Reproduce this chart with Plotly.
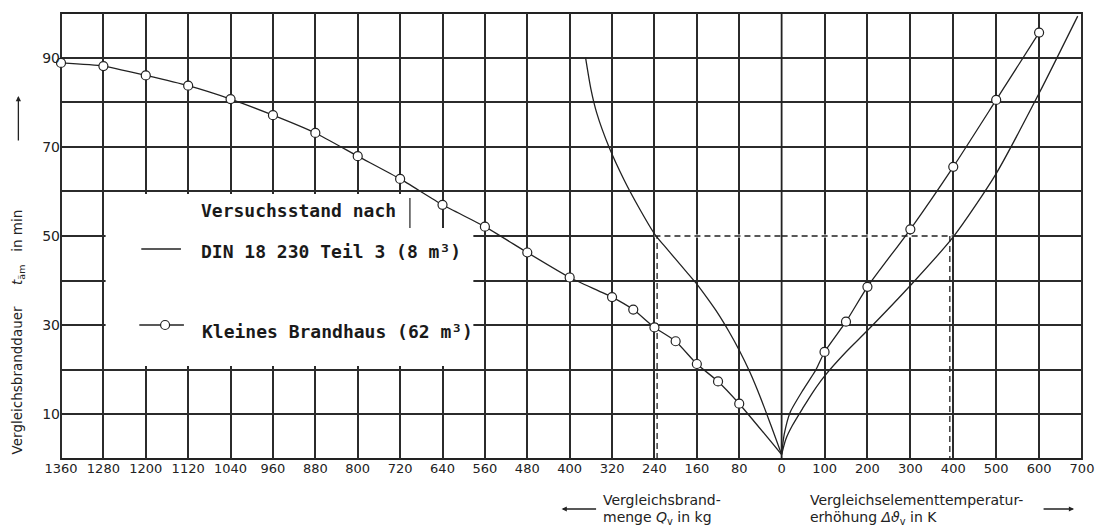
import plotly.graph_objects as go

# ---------------- data ----------------
# left half: Vergleichsbrandmenge Q_v in kg (axis runs 1360 -> 0)
q_ticks = [1360, 1280, 1200, 1120, 1040, 960, 880, 800, 720, 640, 560, 480, 400, 320, 240, 160, 80, 0]
q_tick_text = ["1360", "1280", "1200", "1120", "1040", "960", "880", "800", "720", "640", "560",
               "480", "400", "320", "240", "160", "80", "0"]
# right half: Vergleichselementtemperaturerhöhung in K
k_ticks = [100, 200, 300, 400, 500, 600, 700]
k_tick_text = ["100", "200", "300", "400", "500", "600", "700"]
# y: Vergleichsbranddauer in min
y_ticks = [10, 20, 30, 40, 50, 60, 70, 80, 90]
y_tick_text = ["10", "", "30", "", "50", "", "70", "", "90"]

# Kleines Brandhaus (62 m3) - measured points (circles)
bh_q = [1360, 1280, 1200, 1120, 1040, 960, 880, 800, 720, 640, 560, 480, 400, 320, 280, 240, 200, 160, 120, 80]
bh_q_t = [88.8, 88.1, 86.0, 83.7, 80.7, 77.1, 73.1, 67.9, 62.8, 57.0, 52.1, 46.3, 40.7, 36.3, 33.5, 29.5, 26.4, 21.3, 17.4, 12.4]
bh_k = [100, 150, 200, 300, 400, 500, 600]
bh_k_t = [24.0, 30.8, 38.6, 51.5, 65.5, 80.5, 95.6]
# curve segments joining the measurements to the common origin
bh_q_tail = [0]
bh_q_tail_t = [1]
bh_k_head = [0, 6, 20, 50, 80]
bh_k_head_t = [1, 5.5, 10.5, 15.5, 20.0]

# DIN 18 230 Teil 3 (8 m3) - curves without markers
din_q = [370, 360, 349, 326, 297, 270, 240, 220, 200, 180, 160, 140, 120, 100, 80, 60, 40, 20, 0]
din_q_t = [90, 83.0, 77.6, 70.0, 62.5, 56.5, 50.5, 47.6, 44.8, 42.0, 39.2, 36.0, 32.6, 28.7, 24.4, 19.5, 13.8, 7.5, 1]
din_k = [0, 10, 25, 50, 75, 100, 150, 200, 300, 400, 500, 600, 690]
din_k_t = [1, 4.5, 7.5, 11.5, 15.3, 18.6, 24.0, 28.8, 38.9, 49.8, 64.0, 82.0, 99.3]

# reading example (dashed)
ref_q = 240
ref_q_line = 235
ref_k = 400
ref_k_line = 392
ref_t = 50

# ---------------- styling ----------------
INK = "#222222"
GRID = "#2b2b2b"
split = 0.7058

fig = go.Figure()

line_style = dict(color=INK, width=1.3)

# white under-stroke where the dashed reading line replaces the grid line
fig.add_trace(go.Scatter(x=[ref_q, 0], y=[ref_t, ref_t], mode="lines", line=dict(color="white", width=3.2),
                         xaxis="x", yaxis="y", showlegend=False, hoverinfo="skip"))
fig.add_trace(go.Scatter(x=[0, ref_k], y=[ref_t, ref_t], mode="lines", line=dict(color="white", width=3.2),
                         xaxis="x2", yaxis="y", showlegend=False, hoverinfo="skip"))

fig.add_trace(go.Scatter(x=din_q, y=din_q_t, mode="lines", line=dict(shape="spline", smoothing=0.7, **line_style),
                         xaxis="x", yaxis="y", showlegend=False, hoverinfo="skip"))
fig.add_trace(go.Scatter(x=din_k, y=din_k_t, mode="lines", line=dict(shape="spline", smoothing=0.7, **line_style),
                         xaxis="x2", yaxis="y", showlegend=False, hoverinfo="skip"))
fig.add_trace(go.Scatter(x=bh_q + bh_q_tail, y=bh_q_t + bh_q_tail_t, mode="lines",
                         line=dict(shape="spline", smoothing=0.5, **line_style),
                         xaxis="x", yaxis="y", showlegend=False, hoverinfo="skip"))
fig.add_trace(go.Scatter(x=bh_k_head + bh_k, y=bh_k_head_t + bh_k_t, mode="lines",
                         line=dict(shape="spline", smoothing=0.6, **line_style),
                         xaxis="x2", yaxis="y", showlegend=False, hoverinfo="skip"))

# dashed reading lines
dash_style = dict(color=INK, width=1.3, dash="6px,4px")
fig.add_trace(go.Scatter(x=[ref_q_line, ref_q_line], y=[0, ref_t], mode="lines", line=dash_style,
                         xaxis="x", yaxis="y", showlegend=False, hoverinfo="skip"))
fig.add_trace(go.Scatter(x=[ref_q, 0], y=[ref_t, ref_t], mode="lines", line=dash_style,
                         xaxis="x", yaxis="y", showlegend=False, hoverinfo="skip"))
fig.add_trace(go.Scatter(x=[0, ref_k], y=[ref_t, ref_t], mode="lines", line=dash_style,
                         xaxis="x2", yaxis="y", showlegend=False, hoverinfo="skip"))
fig.add_trace(go.Scatter(x=[ref_k_line, ref_k_line], y=[ref_t, 0], mode="lines", line=dash_style,
                         xaxis="x2", yaxis="y", showlegend=False, hoverinfo="skip"))

marker_style = dict(symbol="circle", size=9, color="white", line=dict(color=INK, width=1.2))
fig.add_trace(go.Scatter(x=bh_q, y=bh_q_t, mode="markers", marker=marker_style, cliponaxis=False,
                         xaxis="x", yaxis="y", showlegend=False, hoverinfo="skip"))
fig.add_trace(go.Scatter(x=bh_k, y=bh_k_t, mode="markers", marker=marker_style, cliponaxis=False,
                         xaxis="x2", yaxis="y", showlegend=False, hoverinfo="skip"))

axis_common = dict(showgrid=True, gridcolor=GRID, gridwidth=1.7, zeroline=False, showline=False,
                   ticks="", tickfont=dict(family="DejaVu Sans", size=13, color=INK))

fig.update_layout(
    width=1106, height=528,
    margin=dict(l=61, r=15, t=13, b=69),
    paper_bgcolor="white", plot_bgcolor="white",
    showlegend=False,
    xaxis=dict(domain=[0, split], range=[1360, 0], tickvals=q_ticks, ticktext=q_tick_text,
               anchor="y", **axis_common),
    xaxis2=dict(domain=[split, 1], range=[0, 700], tickvals=k_ticks, ticktext=k_tick_text,
                anchor="y", **axis_common),
    yaxis=dict(domain=[0, 1], range=[0, 100], tickvals=y_ticks, ticktext=y_tick_text, anchor="x",
               showgrid=True, gridcolor=GRID, gridwidth=1.7, zeroline=False, showline=False,
               ticks="", tickfont=dict(family="DejaVu Sans", size=14, color=INK)),
)

def px(xp):
    return (xp - 61) / 1030.0

def py(yp):
    return (459 - yp) / 446.0

shapes = []
# white legend panel (stepped, as in the original)
shapes.append(dict(type="rect", xref="paper", yref="paper", x0=px(106), x1=px(413), y0=py(229), y1=py(194),
                   fillcolor="white", line=dict(width=0), layer="above"))
shapes.append(dict(type="rect", xref="paper", yref="paper", x0=px(106), x1=px(477), y0=py(366), y1=py(228),
                   fillcolor="white", line=dict(width=0), layer="above"))
shapes.append(dict(type="line", xref="paper", yref="paper", x0=px(413), x1=px(413), y0=py(228), y1=py(198),
                   line=dict(color=INK, width=1.2), layer="above"))
# frame and zero line
shapes.append(dict(type="rect", xref="paper", yref="paper", x0=0, x1=1, y0=0, y1=1,
                   line=dict(color=INK, width=1.9), layer="below"))
shapes.append(dict(type="line", xref="paper", yref="paper", x0=split, x1=split, y0=0, y1=1,
                   line=dict(color=INK, width=1.8), layer="above"))
# legend samples
shapes.append(dict(type="line", xref="paper", yref="paper", x0=px(142), x1=px(182), y0=py(249), y1=py(249),
                   line=dict(color=INK, width=1.3), layer="above"))
shapes.append(dict(type="line", xref="paper", yref="paper", x0=px(140), x1=px(185), y0=py(325), y1=py(325),
                   line=dict(color=INK, width=1.3), layer="above"))
shapes.append(dict(type="circle", xref="paper", yref="paper", xsizemode="pixel", ysizemode="pixel",
                   xanchor=px(166), yanchor=py(325), x0=-4.5, x1=4.5, y0=-4.5, y1=4.5,
                   fillcolor="white", line=dict(color=INK, width=1.2), layer="above"))
fig.update_layout(shapes=shapes)

mono = dict(family="DejaVu Sans Mono", size=18, color="#1a1a1a")
ann = []
ann.append(dict(text="<b>Versuchsstand nach</b>", x=px(200), y=py(210), xref="paper", yref="paper",
                xanchor="left", yanchor="middle", showarrow=False, font=mono))
ann.append(dict(text="<b>DIN 18 230 Teil 3 (8 m³)</b>", x=px(200), y=py(251), xref="paper", yref="paper",
                xanchor="left", yanchor="middle", showarrow=False, font=mono))
ann.append(dict(text="<b>Kleines Brandhaus (62 m³)</b>", x=px(201), y=py(331), xref="paper", yref="paper",
                xanchor="left", yanchor="middle", showarrow=False, font=mono))

sans = dict(family="DejaVu Sans", size=14, color=INK)
ann.append(dict(text="Vergleichsbrand-", x=px(606), y=py(500), xref="paper", yref="paper",
                xanchor="left", yanchor="middle", showarrow=False, font=sans))
ann.append(dict(text="menge <i>Q</i><sub>v</sub> in kg", x=px(606), y=py(518), xref="paper", yref="paper",
                xanchor="left", yanchor="middle", showarrow=False, font=sans))
ann.append(dict(text="Vergleichselementtemperatur-", x=px(815), y=py(500), xref="paper", yref="paper",
                xanchor="left", yanchor="middle", showarrow=False, font=sans))
ann.append(dict(text="erhöhung <i>Δϑ</i><sub>v</sub> in K", x=px(815), y=py(518), xref="paper", yref="paper",
                xanchor="left", yanchor="middle", showarrow=False, font=sans))
# arrows
ann.append(dict(text="", x=px(566), y=py(509), xref="paper", yref="paper", ax=36, ay=0,
                showarrow=True, arrowhead=2, arrowsize=0.8, arrowwidth=1.3, arrowcolor=INK))
ann.append(dict(text="", x=px(1083), y=py(509), xref="paper", yref="paper", ax=-32, ay=0,
                showarrow=True, arrowhead=2, arrowsize=0.8, arrowwidth=1.3, arrowcolor=INK))
# y title
nb = "\u00a0"
ann.append(dict(text="Vergleichsbranddauer" + nb * 5 + "<i>t</i><sub>äm</sub>" + nb * 3 + "in min",
                x=px(18), y=py(332), xref="paper", yref="paper", xanchor="center", yanchor="middle",
                textangle=-90, showarrow=False, font=dict(family="DejaVu Sans", size=13.5, color=INK)))
ann.append(dict(text="", x=px(18), y=py(96), xref="paper", yref="paper", ax=0, ay=46,
                showarrow=True, arrowhead=2, arrowsize=0.8, arrowwidth=1.3, arrowcolor=INK))
fig.update_layout(annotations=ann)

fig.write_html("out.html")
